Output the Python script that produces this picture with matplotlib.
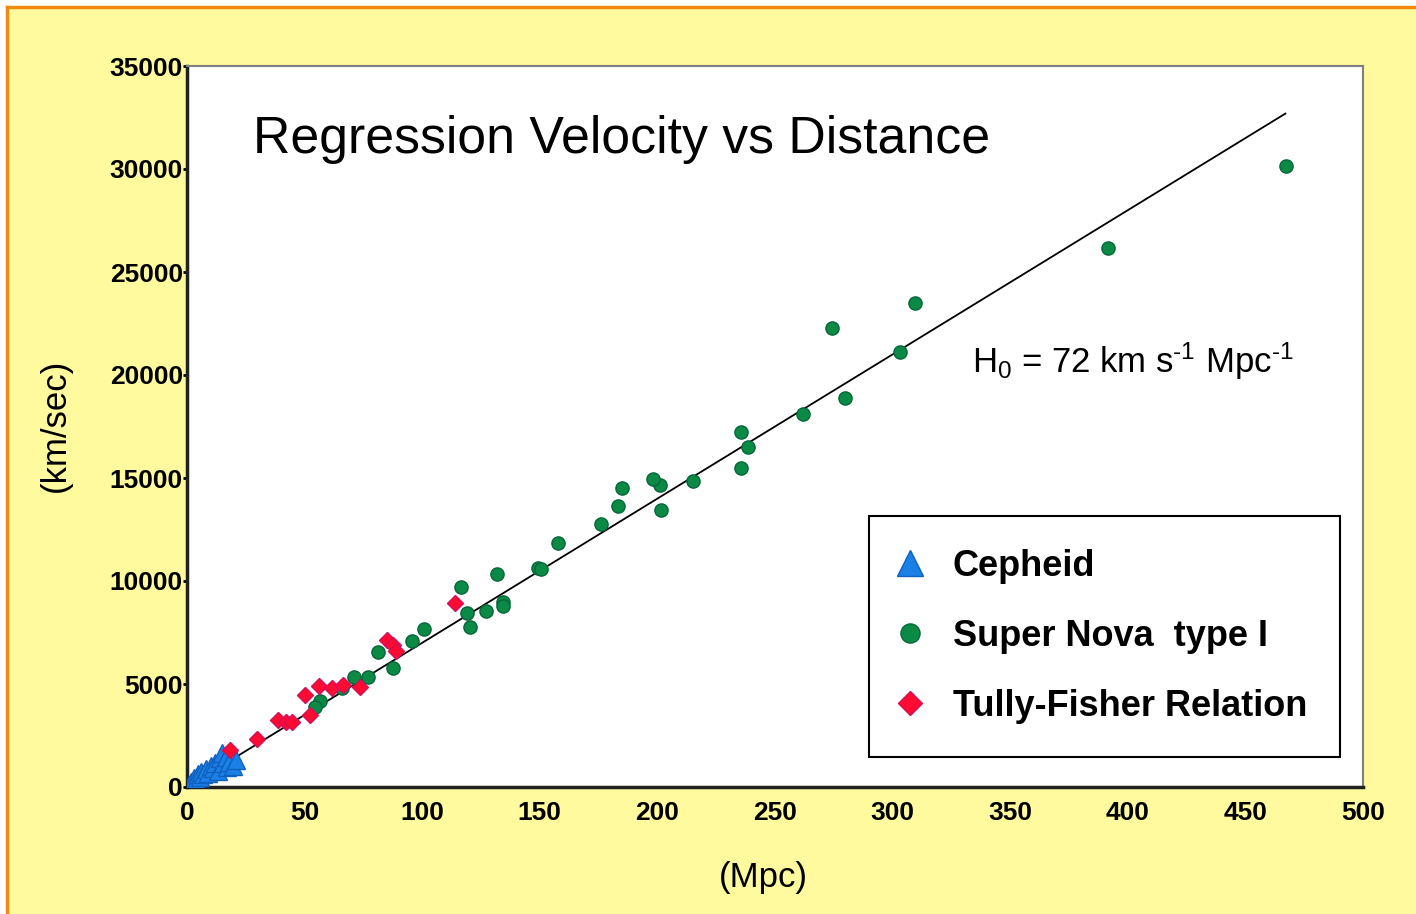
import matplotlib
matplotlib.use("Agg")
import matplotlib.pyplot as plt
import numpy as np
from matplotlib.patches import Rectangle
from matplotlib.lines import Line2D

plt.rcParams['font.family'] = ['Liberation Sans', 'DejaVu Sans']
plt.rcParams['mathtext.fontset'] = 'custom'
plt.rcParams['mathtext.rm'] = 'Liberation Sans'
plt.rcParams['mathtext.it'] = 'Liberation Sans'

# Cepheid distances (Mpc) and velocities (km/s)
cepheid_d = [0.8, 1.5, 2.5, 3.0, 4.0, 4.5, 5.5, 6.0, 7.0, 8.0, 9.0, 10.0,
             11.0, 12.0, 13.0, 14.0, 15.0, 15.5, 16.5, 17.0, 18.0, 19.5, 21.0]
cepheid_v = [100, 250, 200, 450, 350, 650, 500, 750, 650, 850, 700, 1000,
             900, 1150, 800, 1400, 1650, 1150, 1450, 950, 1200, 1000, 1300]

# Super Nova type I
sn_d = [467.1, 391.5, 309.5, 274.4, 303.1, 279.8, 261.8, 235.4, 238.6, 235.4,
        215.3, 201.1, 198.0, 201.4, 184.8, 183.1, 175.9, 157.9, 149.4, 150.5,
        134.5, 134.4, 131.7, 127.1, 116.4, 118.9, 120.3, 100.9, 95.8, 81.3,
        87.4, 77.0, 71.2, 66.1, 56.5, 54.4]
sn_v = [30160, 26150, 23480, 22270, 21100, 18870, 18090, 17220, 16520, 15470,
        14850, 14660, 14940, 13450, 14500, 13640, 12750, 11860, 10620, 10580,
        9000, 8790, 10340, 8560, 9720, 8460, 7780, 7670, 7100, 6530,
        5800, 5350, 5350, 4790, 4180, 3900]

# Tully-Fisher
tf_d = [18.3, 29.9, 38.5, 42.0, 44.5, 50.2, 52.3, 56.2, 61.5, 66.5, 73.4,
        84.9, 87.7, 88.9, 113.9]
tf_v = [1800, 2320, 3250, 3170, 3150, 4470, 3500, 4900, 4790, 4950, 4870,
        7140, 6890, 6620, 8920]

# fitted line
hubble_slope = 70.0
fit_d = np.array([0, 467])
fit_v = hubble_slope * fit_d

x_ticks = [0, 50, 100, 150, 200, 250, 300, 350, 400, 450, 500]
y_ticks = [0, 5000, 10000, 15000, 20000, 25000, 30000, 35000]

W, H = 1416, 914
fig = plt.figure(figsize=(W / 100, H / 100), dpi=100)
fig.patch.set_facecolor('white')

# yellow panel with orange edge on top and left
fig.patches.append(Rectangle((7 / W, 0), 1, 1 - 7 / H, transform=fig.transFigure,
                             facecolor='#FFFA9E', edgecolor='none', zorder=-5))
fig.lines.append(Line2D([7 / W, 1], [1 - 7 / H, 1 - 7 / H], transform=fig.transFigure,
                        color='#F08A10', lw=2.5, zorder=-4))
fig.lines.append(Line2D([7 / W, 7 / W], [0, 1 - 7 / H], transform=fig.transFigure,
                        color='#F08A10', lw=2.5, zorder=-4))

ax = fig.add_axes([187 / W, 1 - 787 / H, 1176 / W, 721 / H])
ax.set_facecolor('white')

ax.plot(fit_d, fit_v, color='black', lw=1.3, zorder=2)
ax.plot(sn_d, sn_v, linestyle='none', marker='o', ms=9.5, color='#0B8A45',
        mec='#06663A', mew=1, label='Super Nova  type I', zorder=3)
ax.plot(tf_d, tf_v, linestyle='none', marker='D', ms=8.5, color='#FF0A30',
        mec='#D0105A', mew=1, label='Tully-Fisher Relation', zorder=4)
ax.plot(cepheid_d, cepheid_v, linestyle='none', marker='^', ms=13, color='#1A80E6',
        mec='#1060C0', mew=1, label='Cepheid', zorder=3)

ax.set_xlim(0, 500)
ax.set_ylim(0, 35000)
ax.set_xticks(x_ticks)
ax.set_yticks(y_ticks)
ax.tick_params(axis='x', length=0, pad=10, labelsize=19)
ax.tick_params(axis='y', length=3, width=2, pad=0, labelsize=19)
for lab in ax.get_xticklabels() + ax.get_yticklabels():
    lab.set_fontweight('bold')

for s in ['left', 'bottom']:
    ax.spines[s].set_color('#202020')
    ax.spines[s].set_linewidth(2.5)
for s in ['top', 'right']:
    ax.spines[s].set_color('#808080')
    ax.spines[s].set_linewidth(1.5)

fig.text(253 / W, 1 - 153 / H, 'Regression Velocity vs Distance', fontsize=37.3,
         ha='left', va='baseline')
fig.text(972 / W, 1 - 373 / H, r'H$_0$ = 72 km s$^{\text{-1}}$ Mpc$^{\text{-1}}$',
         fontsize=25, ha='left', va='baseline')

fig.text(55 / W, 1 - 425 / H, '(km/sec)', rotation=90, fontsize=25,
         ha='center', va='center')
fig.text(763 / W, 1 - 878 / H, '(Mpc)', fontsize=25, ha='center', va='center')

handles, labels = ax.get_legend_handles_labels()
order = [2, 0, 1]
leg = ax.legend([handles[i] for i in order], [labels[i] for i in order],
                loc='lower left', bbox_to_anchor=(0.58, 0.0416), borderaxespad=0,
                frameon=True, fancybox=False, framealpha=1, edgecolor='black',
                markerscale=1.45, prop={'size': 26, 'weight': 'bold'},
                handletextpad=1.0, labelspacing=0.97, borderpad=0.92,
                handlelength=0.4)
leg.get_frame().set_linewidth(1.5)

fig.savefig('out.png', dpi=100, facecolor=fig.get_facecolor())
